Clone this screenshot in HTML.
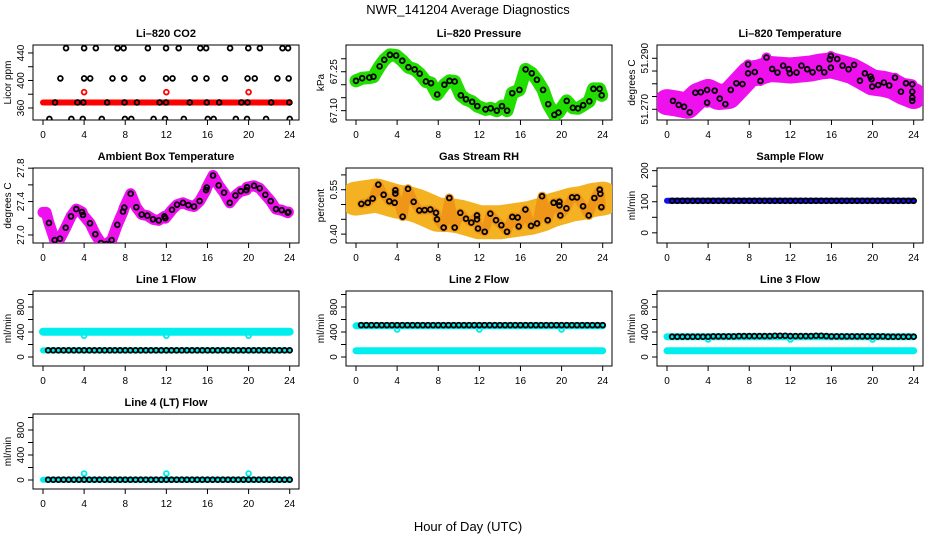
<!DOCTYPE html>
<html><head><meta charset="utf-8">
<style>
html,body{margin:0;padding:0;background:#fff;}
svg{display:block;font-family:"Liberation Sans",sans-serif;}
</style></head>
<body>
<svg id="chart" width="936" height="540" viewBox="0 0 936 540">
<text x="468" y="14" text-anchor="middle" font-size="13">NWR_141204  Average Diagnostics</text>
<text x="468" y="531" text-anchor="middle" font-size="13">Hour of Day (UTC)</text>
</svg>
<script>
// ---------- data ----------
const xTicks = [0,4,8,12,16,20,24];

const co2BlackHours = [2.24,4.0,5.14,7.25,7.84,10.2,11.97,13.2,15.3,15.87,18.2,19.97,21.1,23.3,23.84,
 1.69,4.0,4.59,6.76,7.9,9.69,11.97,12.6,14.76,15.9,17.7,19.9,20.6,22.8,23.9,
 1.17,3.35,3.93,6.24,7.93,9.14,11.35,11.97,14.28,15.93,17.14,19.3,19.9,22.2,23.97,
 0.62,2.76,3.87,5.72,7.97,8.59,10.76,11.87,13.7,16.03,16.6,18.76,19.85,21.7,24.0];
const co2BlackValues = [447,447,447,447,447,447,447,447,447,447,447,447,447,447,447,
 403,403,403,403,403,403,403,403,403,403,403,403,403,403,403,
 368,368,368,368,368,368,368,368,368,368,368,368,368,368,368,
 344,344,344,344,344,344,344,344,344,344,344,344,344,344,344];
const co2RedBandHours = [0,24];
const co2RedBandValues = [368,368];
const co2RedHours = [4,12,20];
const co2RedValues = [383,383,383];

const presHours = [0,0.6,1.3,1.7,2.3,2.75,3.3,3.9,4.5,5.1,5.7,6.2,6.8,7.3,7.9,8.6,9.1,9.6,10.2,10.7,11.3,11.8,12.6,13.1,13.7,14.2,14.7,15.2,15.9,16.5,17.1,17.6,18.2,18.7,19.3,19.7,20.5,21.1,21.6,22.1,22.7,23.1,23.7,23.9];
const presValues = [67.215,67.225,67.2275,67.231,67.271,67.296,67.315,67.3125,67.2925,67.2675,67.259,67.2425,67.2125,67.206,67.1625,67.20,67.215,67.2125,67.159,67.144,67.134,67.1175,67.105,67.109,67.10,67.1175,67.10,67.1675,67.18,67.259,67.244,67.219,67.18,67.125,67.084,67.0925,67.1375,67.111,67.109,67.121,67.136,67.184,67.184,67.159];

const ltHours = [0.58,1.14,1.66,2.21,2.76,3.28,3.9,3.9,4.64,5.13,5.68,6.2,6.75,7.34,7.89,7.89,8.54,9.09,9.68,10.23,10.75,11.3,11.85,11.95,12.6,13.08,13.64,14.16,14.8,15.3,15.84,15.94,15.94,16.56,17.08,17.66,18.2,18.77,19.25,19.8,19.9,19.97,20.55,21.1,21.62,22.18,22.76,23.25,23.86,23.86,23.86,23.86];
const ltValues = [51.2733,51.2717,51.2710,51.2688,51.2765,51.2767,51.2776,51.2726,51.2773,51.2742,51.2720,51.2776,51.2802,51.2799,51.2841,51.2876,51.2846,51.2811,51.2903,51.2858,51.2844,51.2871,51.2857,51.2841,51.2844,51.2871,51.2857,51.2845,51.2861,51.2845,51.2896,51.2909,51.2863,51.2897,51.2871,51.2857,51.2874,51.2812,51.2841,51.2828,51.2818,51.2789,51.2795,51.2805,51.2793,51.2824,51.2769,51.2802,51.2798,51.2769,51.2746,51.2733];
const ltBandHours = [0,1,2,3,4,5,6,7,8,9,10,11,12,13,14,15,16,17,18,19,20,21,22,23,24];
const ltBandValues = [51.2728,51.2722,51.2714,51.2752,51.2768,51.2748,51.2752,51.2795,51.2838,51.2845,51.2858,51.2855,51.2852,51.2856,51.2860,51.2868,51.2872,51.2862,51.2850,51.2828,51.2805,51.2800,51.2790,51.2768,51.2752];

const btHours = [0.58,1.14,1.65,2.21,2.72,3.24,3.8,3.89,4.57,5.09,5.64,6.16,6.68,7.23,7.78,7.91,8.53,9.08,9.6,10.15,10.7,11.26,11.81,11.9,12.55,13.04,13.62,14.14,14.69,15.24,15.86,15.93,16.54,17.09,17.61,18.17,18.72,19.23,19.78,19.85,20.53,21.08,21.63,22.15,22.67,23.22,23.81,23.87];
const btValues = [27.144,26.939,26.956,27.087,27.223,27.310,27.275,27.240,27.140,27.009,26.904,26.891,26.939,27.122,27.280,27.328,27.494,27.332,27.245,27.232,27.188,27.175,27.223,27.201,27.302,27.363,27.385,27.358,27.341,27.406,27.538,27.568,27.712,27.594,27.507,27.385,27.472,27.524,27.538,27.572,27.590,27.559,27.481,27.406,27.310,27.297,27.267,27.275];
const btStartHours = [0,0.3];
const btStartValues = [27.27,27.27];

const rhHours = [0.52,1.14,1.62,2.17,2.69,3.24,3.76,3.83,3.83,4.54,5.06,5.61,6.16,6.68,7.23,7.78,7.88,8.53,9.08,9.6,10.15,10.7,11.22,11.77,11.77,11.87,12.52,13.07,13.62,14.14,14.69,15.21,15.73,15.83,16.48,17.03,17.61,18.1,18.65,19.23,19.79,19.79,19.88,20.47,21.02,21.5,22.09,22.64,23.19,23.71,23.77,23.87];
const rhValues = [0.502,0.506,0.520,0.567,0.533,0.511,0.506,0.548,0.537,0.459,0.553,0.509,0.480,0.481,0.483,0.472,0.450,0.422,0.522,0.422,0.472,0.452,0.439,0.463,0.450,0.419,0.408,0.469,0.447,0.430,0.408,0.458,0.456,0.426,0.483,0.428,0.436,0.528,0.447,0.506,0.509,0.497,0.463,0.487,0.524,0.524,0.494,0.463,0.522,0.550,0.536,0.491];
const rhBandHours = [0,1,2,3,4,5,6,7,8,9,10,11,12,13,14,15,16,17,18,19,20,21,22,23,24];
const rhBandValues = [0.520,0.525,0.530,0.520,0.510,0.505,0.495,0.480,0.465,0.465,0.460,0.450,0.440,0.440,0.440,0.445,0.450,0.455,0.465,0.480,0.490,0.500,0.505,0.515,0.520];

const flowHours = [0.5,1,1.5,2,2.5,3,3.5,4,4.5,5,5.5,6,6.5,7,7.5,8,8.5,9,9.5,10,10.5,11,11.5,12,12.5,13,13.5,14,14.5,15,15.5,16,16.5,17,17.5,18,18.5,19,19.5,20,20.5,21,21.5,22,22.5,23,23.5,24];
const sampleBlack = [103,103,103,103,103,103,103,103,103,103,103,103,103,103,103,103,103,103,103,103,103,103,103,103,103,103,103,103,103,103,103,103,103,103,103,103,103,103,103,103,103,103,103,103,103,103,103,103];
const line1Black = [107,107,107,107,107,107,107,107,107,107,107,107,107,107,107,107,107,107,107,107,107,107,107,107,107,107,107,107,107,107,107,107,107,107,107,107,107,107,107,107,107,107,107,107,107,107,107,107];
const line2Black = [510,510,510,510,510,510,510,510,510,510,510,510,510,510,510,510,510,510,510,510,510,510,510,510,510,510,510,510,510,510,510,510,510,510,510,510,510,510,510,510,510,510,510,510,510,510,510,510];
const line3Black = [325,325,325,325,325,325,325,325,330,330,330,330,330,335,335,335,335,335,335,335,340,340,340,335,335,335,335,335,340,340,335,330,330,330,330,330,330,330,330,330,330,330,325,325,325,325,325,325];
const line4Black = [5,5,5,5,5,5,5,5,5,5,5,5,5,5,5,5,5,5,5,5,5,5,5,5,5,5,5,5,5,5,5,5,5,5,5,5,5,5,5,5,5,5,5,5,5,5,5,5];
const bandSpan = [0,24];
const sampleBand = [103,103];
const line1CyanHigh = [405,405];
const line1CyanLow = [105,105];
const line2CyanHigh = [500,500];
const line2CyanLow = [100,100];
const line3CyanHigh = [325,325];
const line3CyanLow = [100,100];
const line4CyanLow = [5,5];
const dipHours = [4,12,20];
const line1Dips = [340,340,340];
const line2Dips = [440,440,440];
const line3Dips = [280,280,280];
const line4Spikes = [104,104,104];

// ---------- drawing ----------
const NS = "http://www.w3.org/2000/svg";
const svg = document.getElementById("chart");
const BW = 266, BH = 75;
const colX = [33,346,657];
const rowY = [45,168,291,414];

function mk(tag, attrs, parent){
  const e = document.createElementNS(NS, tag);
  for (const k in attrs) e.setAttribute(k, attrs[k]);
  (parent||svg).appendChild(e);
  return e;
}

function panel(o){
  const L = colX[o.col], T = rowY[o.row];
  const g = mk("g", {});
  
  
  const sx = h => L + 10 + h * (246.7/24);
  const sy = v => T + BH - (v - o.ymin) / (o.ymax - o.ymin) * BH;
  const t = mk("text", {x: L + BW/2, y: T - 8, "text-anchor":"middle", "font-size":"11", "font-weight":"bold"}, g);
  t.textContent = o.title;
  
  
  const box = mk("rect", {x:L, y:T, width:BW, height:BH, fill:"none", stroke:"#000", "stroke-width":"1"}, g);
  
  
  const xa = mk("g", {}, g);
  
  
  xTicks.forEach(h => {
    mk("line", {x1:sx(h), x2:sx(h), y1:T+BH, y2:T+BH+5, stroke:"#000"}, xa);
    if (o.xlabels) {
      const tl = mk("text", {x:sx(h), y:T+BH+18, "text-anchor":"middle", "font-size":"10"}, xa);
      tl.textContent = h;
      
      
    }
  });
  const ya = mk("g", {}, g);
  
  
  o.yticks.forEach(v => {
    mk("line", {x1:L-5, x2:L, y1:sy(v), y2:sy(v), stroke:"#000"}, ya);
  });
  o.ylabels.forEach(v => {
    const y = sy(v), x = L - 9;
    const tl = mk("text", {x:x, y:y, "text-anchor":"middle", "font-size":"10", transform:`rotate(-90 ${x} ${y})`}, ya);
    tl.textContent = o.fmt ? v.toFixed(o.fmt) : v;
    
    
  });
  const ylx = L - 22, yly = T + BH/2;
  const yl = mk("text", {x:ylx, y:yly, "text-anchor":"middle", "font-size":"10", transform:`rotate(-90 ${ylx} ${yly})`}, g);
  yl.textContent = o.ylab;
  
  
  const cid = "clip-" + o.name;
  const cp = mk("clipPath", {id:cid}, g);
  mk("rect", {x:L, y:T, width:BW, height:BH}, cp);
  const pg = mk("g", {"clip-path":`url(#${cid})`}, g);
  return {g:pg, sx, sy};
}

function band(p, hours, vals, color, w, name){
  const pts = hours.map((h,i) => p.sx(h).toFixed(1) + "," + p.sy(vals[i]).toFixed(1)).join(" ");
  const pl = mk("polyline", {points:pts, fill:"none", stroke:color, "stroke-width":w, "stroke-linejoin":"round", "stroke-linecap":"round"}, p.g);
  
  
}
function circles(p, hours, vals, color, name){
  hours.forEach((h,i) => {
    const c = mk("circle", {cx:p.sx(h), cy:p.sy(vals[i]), r:2.4, fill:"none", stroke:color, "stroke-width":1.8}, p.g);
    
    
  });
}

let p = panel({name:"co2", title:"Li\u2013820 CO2", col:0, row:0, ymin:342.5, ymax:451.6, yticks:[360,380,400,420,440], ylabels:[360,400,440], ylab:"Licor ppm", xlabels:true});
band(p, co2RedBandHours, co2RedBandValues, "#ff0000", 6, "co2-red-series");
circles(p, co2RedHours, co2RedValues, "#ff0000", "co2-red-point");
circles(p, co2BlackHours, co2BlackValues, "#000", "co2-black-point");

p = panel({name:"pressure", title:"Li\u2013820 Pressure", col:1, row:0, ymin:67.064, ymax:67.353, yticks:[67.10,67.15,67.20,67.25,67.30], ylabels:[67.10,67.25], fmt:2, ylab:"kPa", xlabels:true});
band(p, presHours, presValues, "#22dd00", 13, "pressure-green-band");
circles(p, presHours, presValues, "#000", "pressure-point");

p = panel({name:"li-temp", title:"Li\u2013820 Temperature", col:2, row:0, ymin:51.2658, ymax:51.2952, yticks:[51.270,51.275,51.280,51.285,51.290], ylabels:[51.270,51.290], fmt:3, ylab:"degrees C", xlabels:true});
band(p, ltBandHours, ltBandValues, "#ee11ee", 26, "li-temp-magenta-band");
band(p, ltHours, ltValues, "#ee11ee", 10, "li-temp-magenta-scatter");
circles(p, ltHours, ltValues, "#000", "li-temp-point");

p = panel({name:"box-temp", title:"Ambient Box Temperature", col:0, row:1, ymin:26.904, ymax:27.802, yticks:[27.0,27.2,27.4,27.6,27.8], ylabels:[27.0,27.4,27.8], fmt:1, ylab:"degrees C", xlabels:true});
band(p, btStartHours.concat(btHours), btStartValues.concat(btValues), "#ee11ee", 11, "box-temp-magenta-band");
circles(p, btHours, btValues, "#000", "box-temp-point");

p = panel({name:"rh", title:"Gas Stream RH", col:1, row:1, ymin:0.37, ymax:0.6233, yticks:[0.40,0.45,0.50,0.55,0.60], ylabels:[0.40,0.55], fmt:2, ylab:"percent", xlabels:true});
band(p, rhBandHours, rhBandValues, "#f4b222", 34, "rh-orange-band");
band(p, rhHours, rhValues, "#ef9518", 9, "rh-orange-scatter");
circles(p, rhHours, rhValues, "#000", "rh-point");

p = panel({name:"sample-flow", title:"Sample Flow", col:2, row:1, ymin:-32.7, ymax:208.6, yticks:[0,50,100,150,200], ylabels:[0,100,200], ylab:"ml/min", xlabels:true});
band(p, bandSpan, sampleBand, "#1010ee", 6, "sample-flow-blue-band");
circles(p, flowHours, sampleBlack, "#000", "sample-flow-point");

const fy = {ymin:-144, ymax:1056, yticks:[0,200,400,600,800,1000], ylabels:[0,400,800], ylab:"ml/min"};
p = panel(Object.assign({name:"line1-flow", title:"Line 1 Flow", col:0, row:2, xlabels:true}, fy));
band(p, bandSpan, line1CyanHigh, "#00eeee", 8, "line1-cyan-high");
band(p, bandSpan, line1CyanLow, "#00eeee", 6, "line1-cyan-low");
circles(p, dipHours, line1Dips, "#00eeee", "line1-cyan-dip");
circles(p, flowHours, line1Black, "#000", "line1-point");
p = panel(Object.assign({name:"line2-flow", title:"Line 2 Flow", col:1, row:2, xlabels:true}, fy));
band(p, bandSpan, line2CyanHigh, "#00eeee", 7, "line2-cyan-high");
band(p, bandSpan, line2CyanLow, "#00eeee", 7, "line2-cyan-low");
circles(p, dipHours, line2Dips, "#00eeee", "line2-cyan-dip");
circles(p, flowHours, line2Black, "#000", "line2-point");
p = panel(Object.assign({name:"line3-flow", title:"Line 3 Flow", col:2, row:2, xlabels:true}, fy));
band(p, bandSpan, line3CyanHigh, "#00eeee", 7, "line3-cyan-high");
band(p, bandSpan, line3CyanLow, "#00eeee", 7, "line3-cyan-low");
circles(p, dipHours, line3Dips, "#00eeee", "line3-cyan-dip");
circles(p, flowHours, line3Black, "#000", "line3-point");
p = panel(Object.assign({name:"line4-flow", title:"Line 4 (LT) Flow", col:0, row:3, xlabels:true}, fy));
band(p, bandSpan, line4CyanLow, "#00eeee", 6, "line4-cyan-low");
circles(p, dipHours, line4Spikes, "#00eeee", "line4-cyan-spike");
circles(p, flowHours, line4Black, "#000", "line4-point");
</script>
</body></html>
